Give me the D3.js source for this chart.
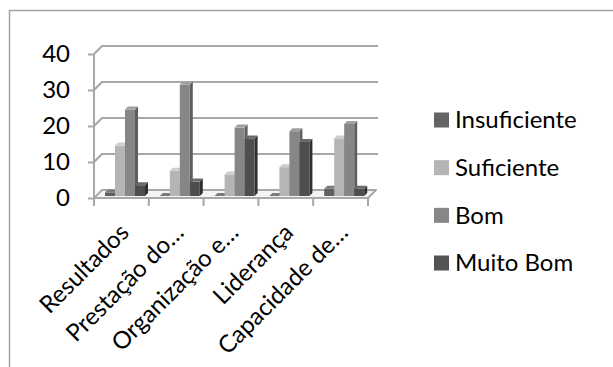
<!DOCTYPE html>
<html>
<head>
<meta charset="utf-8">
<script src="https://cdn.jsdelivr.net/npm/d3@7"></script>
<style>
  html, body { margin: 0; padding: 0; background: #fff; }
  svg { display: block; font-family: Lato, "Open Sans", sans-serif; }
</style>
</head>
<body>
<svg id="chart" width="613" height="367"></svg>
<script>
// Category labels (truncated as in the source workbook)
const categories = ["Resultados", "Prestação do…", "Organização e…", "Liderança", "Capacidade de…"];
const seriesNames = ["Insuficiente", "Suficiente", "Bom", "Muito Bom"];
// Counts per category for each rating
const insuficiente = [1, 0, 0, 0, 2];
const suficiente   = [14, 7, 6, 8, 16];
const bom          = [24, 31, 19, 18, 20];
const muitoBom     = [3, 4, 16, 15, 2];
const yTicks = [0, 10, 20, 30, 40];

const seriesValues = [insuficiente, suficiente, bom, muitoBom];
const palette = [
  { front: "#606060", side: "#404040", top: "#7a7a7a", key: "#646464" },
  { front: "#b5b5b5", side: "#8e8e8e", top: "#cdcdcd", key: "#b5b5b5" },
  { front: "#868686", side: "#5e5e5e", top: "#a0a0a0", key: "#878787" },
  { front: "#4e4e4e", side: "#2f2f2f", top: "#6a6a6a", key: "#545454" }
];

const svg = d3.select("#chart");

// Outer chart frame
svg.append("rect")
  .attr("x", 9.5).attr("y", 10.5)
  .attr("width", 800).attr("height", 600)
  .attr("fill", "none").attr("stroke", "#a3a3a3").attr("stroke-width", 1.5);

// Front-plane geometry of the 3D plot
const x0 = 94, x1 = 368;
const y = d3.scaleLinear().domain([0, 40]).range([198, 54]);
const xBand = d3.scaleBand().domain(categories).range([x0, x1]).padding(0);
const xInner = d3.scaleBand().domain(seriesNames).range([9, 49]).padding(0);
const DEPTH = 8;              // floor/wall depth offset
const barD1 = 2, barD2 = 5;   // bar depth span
const gridColor = "#a8a8a8";

// oblique projection: shift right and up by depth
const P = (px, py, d) => [px + d, py - d];

const walls = svg.append("g");

// Floor
walls.append("polygon")
  .attr("points", [P(x0, y(0), 0), P(x1, y(0), 0), P(x1, y(0), DEPTH), P(x0, y(0), DEPTH)].map(p => p.join(",")).join(" "))
  .attr("fill", "#f4f4f4").attr("stroke", gridColor).attr("stroke-width", 2).attr("stroke-linejoin", "round");

// Gridlines on back and side walls
yTicks.filter(t => t > 0).forEach(t => {
  const a = P(x0, y(t), 0), b = P(x0, y(t), DEPTH), c = P(x1 + 2, y(t), DEPTH);
  walls.append("polyline")
    .attr("points", [a, b, c].map(p => p.join(",")).join(" "))
    .attr("fill", "none").attr("stroke", gridColor).attr("stroke-width", 2.2);
});

// Value axis
const yAxis = d3.axisLeft(y).tickValues(yTicks).tickSize(6).tickPadding(18);
const gy = svg.append("g").attr("transform", `translate(${x0},0)`).call(yAxis);
gy.select(".domain").attr("stroke", gridColor).attr("stroke-width", 2)
  .attr("d", `M0,${y(0)}V${y(40)}`);
gy.selectAll(".tick line").attr("stroke", gridColor).attr("stroke-width", 2);
gy.selectAll(".tick text")
  .attr("font-size", 24).attr("fill", "#000").attr("font-family", "Lato, sans-serif");

// Category axis ticks at band boundaries
const boundaries = categories.map(c => xBand(c)).concat([x1]);
svg.append("g").selectAll("line").data(boundaries).join("line")
  .attr("x1", d => d).attr("x2", d => d)
  .attr("y1", y(0)).attr("y2", y(0) + 8)
  .attr("stroke", gridColor).attr("stroke-width", 2);

// Category labels rotated -45°
svg.append("g").selectAll("text").data(categories).join("text")
  .attr("transform", d => `translate(${xBand(d) + xBand.bandwidth() / 2 + 3},${y(0) + 30}) rotate(-45)`)
  .attr("text-anchor", "end")
  .attr("dy", "0.35em")
  .attr("font-size", 24)
  .attr("fill", "#000")
  .text(d => d);

// 3D bars
const bars = svg.append("g");
categories.forEach((cat, i) => {
  seriesNames.forEach((name, j) => {
    const v = seriesValues[j][i];
    const col = palette[j];
    const left = xBand(cat) + xInner(name);
    const right = left + xInner.bandwidth();
    const top = y(v), base = y(0);
    const g = bars.append("g");
    const poly = pts => pts.map(p => p.join(",")).join(" ");
    // side face
    g.append("polygon")
      .attr("points", poly([P(right, base, barD1), P(right, base, barD2), P(right, top, barD2), P(right, top, barD1)]))
      .attr("fill", col.side);
    // front face
    g.append("polygon")
      .attr("points", poly([P(left, base, barD1), P(right, base, barD1), P(right, top, barD1), P(left, top, barD1)]))
      .attr("fill", col.front);
    // top face
    g.append("polygon")
      .attr("points", poly([P(left, top, barD1), P(right, top, barD1), P(right, top, barD2), P(left, top, barD2)]))
      .attr("fill", col.top);
  });
});

// Legend
const legendY = d3.scalePoint().domain(seriesNames).range([120, 263]);
const legend = svg.append("g");
seriesNames.forEach((name, j) => {
  legend.append("rect")
    .attr("x", 434).attr("y", legendY(name) - 7.5)
    .attr("width", 15).attr("height", 15)
    .attr("fill", palette[j].key);
  legend.append("text")
    .attr("x", 455).attr("y", legendY(name))
    .attr("dy", "0.35em")
    .attr("font-size", 24)
    .attr("fill", "#000")
    .text(name);
});
</script>
</body>
</html>
